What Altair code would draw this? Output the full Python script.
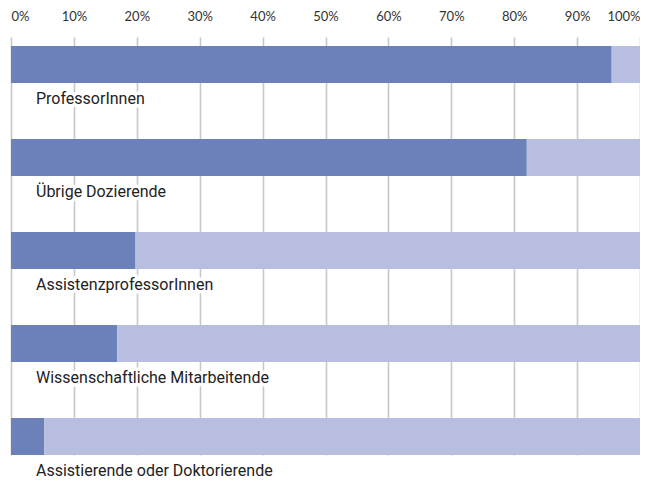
import altair as alt
import pandas as pd

categories = [
    "ProfessorInnen",
    "Übrige Dozierende",
    "AssistenzprofessorInnen",
    "Wissenschaftliche Mitarbeitende",
    "Assistierende oder Doktorierende",
]
share_dark = [95.5, 82.0, 19.8, 16.9, 5.3]
share_light = [4.5, 18.0, 80.2, 83.1, 94.7]
tick_values = [0, 10, 20, 30, 40, 50, 60, 70, 80, 90, 100]

rows = []
for c, a, b in zip(categories, share_dark, share_light):
    rows.append({"cat": c, "part": "A", "ord": 1, "value": a})
    rows.append({"cat": c, "part": "B", "ord": 2, "value": b})
df = pd.DataFrame(rows)
lab = pd.DataFrame({"cat": categories})

yscale = alt.Scale(domain=categories, paddingInner=0.602, paddingOuter=0.048, align=1)

bars = alt.Chart(df).mark_bar().encode(
    x=alt.X(
        "value:Q",
        stack="zero",
        scale=alt.Scale(domain=[0, 100], nice=False),
        axis=alt.Axis(
            orient="top",
            values=tick_values,
            labelExpr="datum.value + '%'",
            title=None,
            domain=False,
            ticks=False,
            grid=True,
            gridColor="#c8c8c8",
            gridWidth=1.6,
            labelFont="Lato",
            labelFontSize=13,
            labelColor="#333333",
            labelPadding=14,
            labelFlush=True,
        ),
    ),
    y=alt.Y("cat:N", scale=yscale, axis=None, sort=categories),
    color=alt.Color(
        "part:N",
        scale=alt.Scale(domain=["A", "B"], range=["#6c80b9", "#b7bedf"]),
        legend=None,
    ),
    order=alt.Order("ord:Q"),
)

halo = alt.Chart(lab).mark_text(
    align="left", baseline="middle", dy=35, font="Roboto", fontSize=16,
    color="white", stroke="white", strokeWidth=7, strokeJoin="round",
).encode(
    x=alt.value(25),
    y=alt.Y("cat:N", scale=yscale, axis=None, sort=categories),
    text="cat:N",
)

text = alt.Chart(lab).mark_text(
    align="left", baseline="middle", dy=35, font="Roboto", fontSize=16,
    color="#222222",
).encode(
    x=alt.value(25),
    y=alt.Y("cat:N", scale=yscale, axis=None, sort=categories),
    text="cat:N",
)

chart = alt.layer(bars, halo, text).properties(
    width=629,
    height=418,
    autosize=alt.AutoSizeParams(type="none"),
    padding={"left": 3, "top": 29, "right": 0, "bottom": 30},
).configure_view(stroke=None)

chart.save("out.html", embed_options={"renderer": "svg", "actions": False})
